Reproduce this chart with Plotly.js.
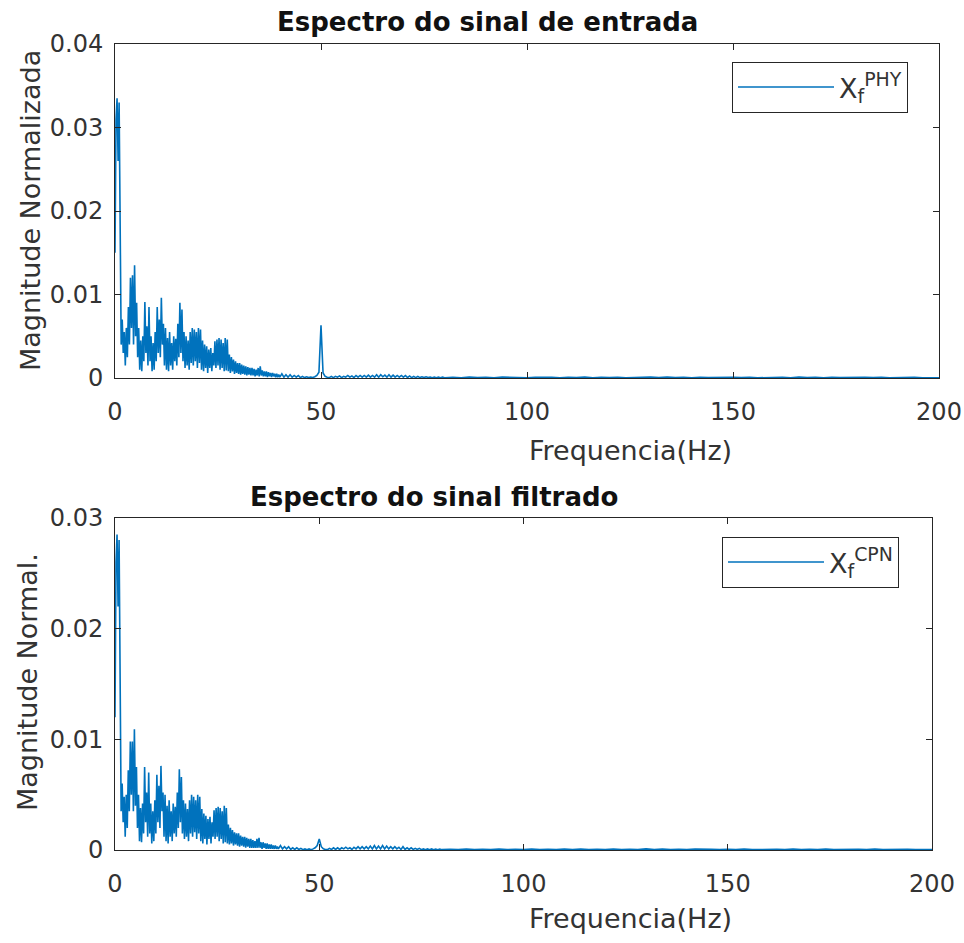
<!DOCTYPE html>
<html>
<head>
<meta charset="utf-8">
<script src="https://cdn.plot.ly/plotly-3.0.1.min.js"></script>
<style>
  html, body { margin: 0; padding: 0; background: #fff; }
  #chart { width: 964px; height: 943px; }
</style>
</head>
<body>
<div id="chart"></div>
<script>
// ---------------- DATA ----------------
// Frequency grids (FFT bins): fine 0..40 Hz step 0.25, mid 40.5..80 step 0.5, coarse 82..200 step 2
var fineStart = 0,   fineStep = 0.25;
var midStart = 40.5, midStep = 0.5;
var coarseStart = 82, coarseStep = 2;

// Espectro do sinal de entrada (X_f^PHY)
var entradaFine = [
  0.015, 0.031, 0.0335, 0.026, 0.033, 0.012, 0.004, 0.007,
  0.003, 0.0055, 0.0015, 0.006, 0.0025, 0.0085, 0.004, 0.012,
  0.006, 0.0123, 0.004, 0.0135, 0.005, 0.009, 0.0025, 0.006,
  0.001, 0.0045, 0.0008, 0.005, 0.002, 0.0091, 0.003, 0.0062,
  0.0015, 0.0085, 0.002, 0.005, 0.0008, 0.0042, 0.001, 0.0055,
  0.002, 0.0085, 0.003, 0.007, 0.0025, 0.0096, 0.004, 0.0065,
  0.0015, 0.006, 0.001, 0.0048, 0.0008, 0.0055, 0.0015, 0.0042,
  0.001, 0.005, 0.002, 0.0047, 0.0015, 0.0065, 0.0025, 0.009,
  0.003, 0.0082, 0.002, 0.0055, 0.0012, 0.005, 0.0015, 0.0045,
  0.001, 0.0055, 0.0018, 0.006, 0.0015, 0.0058, 0.002, 0.0055,
  0.0012, 0.006, 0.0018, 0.0058, 0.001, 0.0045, 0.0008, 0.004,
  0.0012, 0.0038, 0.0006, 0.0034, 0.0012, 0.0036, 0.0008, 0.003,
  0.0015, 0.0044, 0.0012, 0.0046, 0.0015, 0.0048, 0.001, 0.0046,
  0.0012, 0.0042, 0.0008, 0.0048, 0.0009, 0.0046, 0.0008, 0.0028,
  0.0006, 0.0025, 0.0008, 0.0022, 0.0005, 0.002, 0.0006, 0.0018,
  0.0005, 0.0018, 0.0004, 0.0016, 0.0005, 0.0015, 0.0004, 0.0014,
  0.0003, 0.0013, 0.0004, 0.0012, 0.0003, 0.0012, 0.0003, 0.0011,
  0.0002, 0.001, 0.0003, 0.0012, 0.0002, 0.0014, 0.0003, 0.0009,
  0.0002, 0.0008, 0.0002, 0.0008, 0.0001, 0.0007, 0.0002, 0.0006,
  0.0001, 0.0006, 0.0002, 0.0005, 0.0001, 0.0005, 0.0001, 0.0004,
  0.0001
];
var entradaMid = [
  0.0005, 0.0001, 0.0004, 0.0001, 0.0004, 0.0001, 0.0003, 0.0001,
  0.0003, 0.00005, 0.0002, 0.00005, 0.00015, 0.00005, 0.0001, 0.00005,
  0.00015, 0.0003, 0.0007, 0.0063, 0.0006, 0.0002, 0.0001, 0.00005,
  0.0002, 0.00005, 0.0002, 0.0001, 0.00025, 0.00005, 0.0002, 0.0001,
  0.0003, 0.0001, 0.00025, 0.00005, 0.0003, 0.0001, 0.0003, 0.0001,
  0.0003, 0.0001, 0.00035, 0.0001, 0.0003, 0.0001, 0.0004, 0.0001,
  0.0004, 0.00015, 0.00035, 0.0001, 0.0004, 0.0001, 0.00035, 0.0001,
  0.0003, 0.0001, 0.0003, 0.0001, 0.0003, 0.00005, 0.00025, 0.00005,
  0.0002, 0.00005, 0.0002, 0.00005, 0.00015, 0.00005, 0.00015, 0.00005,
  0.0001, 0.00003, 0.0001, 0.00003, 0.0001, 0.00003, 0.0001, 0.00003
];
var entradaCoarse = [
  0.00008, 0.00003, 0.0001, 0.00004, 0.00008, 0.00003, 0.0001, 0.00005, 0.00008, 0.00003,
  0.00009, 0.00004, 0.00007, 0.00003, 0.00008, 0.00004, 0.0001, 0.00003, 0.00008, 0.00004,
  0.00009, 0.00003, 0.00007, 0.00004, 0.00012, 0.00005, 0.0001, 0.00004, 0.00008, 0.00003,
  0.00009, 0.00004, 0.00007, 0.00003, 0.00008, 0.00004, 0.00009, 0.00003, 0.00007, 0.00004,
  0.00008, 0.00003, 0.0001, 0.00004, 0.00008, 0.00003, 0.00009, 0.00004, 0.00007, 0.00003,
  0.00008, 0.00004, 0.00009, 0.00003, 0.00007, 0.00004, 0.00008, 0.00003, 0.00006, 0.00003
];

// Espectro do sinal filtrado (X_f^CPN)
var filtradoFine = [
  0.012, 0.026, 0.0285, 0.022, 0.028, 0.01, 0.0035, 0.006,
  0.0025, 0.0048, 0.0012, 0.005, 0.002, 0.0072, 0.0035, 0.0098,
  0.005, 0.0098, 0.0035, 0.0109, 0.004, 0.0075, 0.002, 0.005,
  0.0008, 0.0038, 0.0007, 0.0042, 0.0015, 0.0075, 0.0025, 0.0052,
  0.0012, 0.007, 0.0015, 0.0042, 0.0006, 0.0035, 0.0008, 0.0045,
  0.0015, 0.0068, 0.0025, 0.0058, 0.002, 0.0076, 0.0035, 0.0052,
  0.0012, 0.005, 0.0008, 0.004, 0.0006, 0.0045, 0.0012, 0.0035,
  0.0008, 0.0042, 0.0015, 0.0039, 0.0012, 0.0052, 0.002, 0.0073,
  0.0025, 0.0066, 0.0015, 0.0045, 0.001, 0.0042, 0.0012, 0.0037,
  0.0008, 0.0045, 0.0015, 0.005, 0.0012, 0.0048, 0.0016, 0.0045,
  0.001, 0.005, 0.0015, 0.0048, 0.0008, 0.0037, 0.0006, 0.0033,
  0.001, 0.0031, 0.0005, 0.0028, 0.001, 0.003, 0.0006, 0.0025,
  0.0012, 0.0036, 0.001, 0.0038, 0.0012, 0.0039, 0.0008, 0.0038,
  0.001, 0.0035, 0.0006, 0.004, 0.0007, 0.0038, 0.0006, 0.0023,
  0.0005, 0.002, 0.0006, 0.0018, 0.0004, 0.0016, 0.0005, 0.0015,
  0.0004, 0.0015, 0.0003, 0.0013, 0.0004, 0.0012, 0.0003, 0.0012,
  0.0002, 0.0011, 0.0003, 0.001, 0.0002, 0.001, 0.0002, 0.0009,
  0.0002, 0.0008, 0.0002, 0.001, 0.0002, 0.0011, 0.0002, 0.0007,
  0.0001, 0.0007, 0.0002, 0.0006, 0.0001, 0.0006, 0.0001, 0.0005,
  0.0001, 0.0005, 0.0001, 0.0004, 0.0001, 0.0004, 0.0001, 0.0003,
  0.0001
];
var filtradoMid = [
  0.0004, 0.0001, 0.0003, 0.0001, 0.0003, 0.00005, 0.0002, 0.00005,
  0.0002, 0.00005, 0.00015, 0.00003, 0.0001, 0.00003, 0.0001, 0.00003,
  0.0001, 0.0002, 0.0004, 0.001, 0.0003, 0.0001, 0.00005, 0.00003,
  0.00015, 0.00005, 0.0002, 0.00005, 0.0002, 0.00005, 0.0002, 0.0001,
  0.00025, 0.0001, 0.0002, 0.00005, 0.00025, 0.0001, 0.0003, 0.0001,
  0.0003, 0.0001, 0.0003, 0.0001, 0.00035, 0.0001, 0.0004, 0.0001,
  0.00035, 0.0001, 0.0004, 0.0001, 0.00035, 0.0001, 0.0003, 0.0001,
  0.0003, 0.0001, 0.00025, 0.00005, 0.0003, 0.00005, 0.0002, 0.00005,
  0.0002, 0.00005, 0.00015, 0.00005, 0.00015, 0.00003, 0.0001, 0.00003,
  0.0001, 0.00003, 0.0001, 0.00003, 0.00008, 0.00003, 0.00008, 0.00003
];
var filtradoCoarse = [
  0.00007, 0.00003, 0.00009, 0.00004, 0.00007, 0.00003, 0.00009, 0.00004, 0.00007, 0.00003,
  0.00008, 0.00003, 0.00006, 0.00003, 0.00008, 0.00004, 0.00009, 0.00003, 0.00007, 0.00004,
  0.00008, 0.00003, 0.00006, 0.00004, 0.0001, 0.00004, 0.00009, 0.00004, 0.00007, 0.00003,
  0.00008, 0.00004, 0.00006, 0.00003, 0.00007, 0.00004, 0.00008, 0.00003, 0.00006, 0.00004,
  0.00007, 0.00003, 0.00009, 0.00004, 0.00007, 0.00003, 0.00008, 0.00004, 0.00006, 0.00003,
  0.00007, 0.00004, 0.00008, 0.00003, 0.00006, 0.00004, 0.00007, 0.00003, 0.00005, 0.00003
];

var xTickVals = [0, 50, 100, 150, 200];
var titles = ["Espectro do sinal de entrada", "Espectro do sinal filtrado"];
var yLabels = ["Magnitude Normalizada", "Magnitude Normal."];
var xLabel = "Frequencia(Hz)";
var legendNames = ["X<sub>f</sub><sup>PHY</sup>", "X<sub>f</sub><sup>CPN</sup>"];

// ---------------- BUILD ----------------
function grid(start, step, n) {
  var out = [];
  for (var i = 0; i < n; i++) out.push(+(start + i * step).toFixed(4));
  return out;
}
function freqsFor(fine, mid, coarse) {
  return grid(fineStart, fineStep, fine.length)
    .concat(grid(midStart, midStep, mid.length))
    .concat(grid(coarseStart, coarseStep, coarse.length));
}

var W = 964, H = 943;
function px(x) { return x / W; }
function py(y) { return 1 - y / H; }

var lineColor = '#0072BD';
var axisColor = '#262626';
var textColor = '#333333';
var FONT = 'DejaVu Sans, Arial, sans-serif';

var trace1 = {
  type: 'scatter', mode: 'lines',
  x: freqsFor(entradaFine, entradaMid, entradaCoarse),
  y: entradaFine.concat(entradaMid, entradaCoarse),
  line: { color: lineColor, width: 1.6 },
  name: legendNames[0], xaxis: 'x', yaxis: 'y', legend: 'legend'
};
var trace2 = {
  type: 'scatter', mode: 'lines',
  x: freqsFor(filtradoFine, filtradoMid, filtradoCoarse),
  y: filtradoFine.concat(filtradoMid, filtradoCoarse),
  line: { color: lineColor, width: 1.6 },
  name: legendNames[1], xaxis: 'x2', yaxis: 'y2', legend: 'legend2'
};

function xAxis(domain, anchor) {
  return {
    domain: domain, anchor: anchor, range: [0, 200], tickvals: xTickVals,
    ticks: 'inside', ticklen: 6, tickcolor: axisColor, tickwidth: 1,
    showline: true, linecolor: axisColor, linewidth: 1, mirror: 'ticks',
    showgrid: false, zeroline: false,
    tickfont: { family: FONT, size: 24, color: textColor },
    ticklabelstandoff: 12
  };
}
function yAxis(domain, anchor, max) {
  return {
    domain: domain, anchor: anchor, range: [0, max], dtick: 0.01, tick0: 0,
    ticks: 'inside', ticklen: 6, tickcolor: axisColor, tickwidth: 1,
    showline: true, linecolor: axisColor, linewidth: 1, mirror: 'ticks',
    showgrid: false, zeroline: false,
    tickfont: { family: FONT, size: 24, color: textColor },
    ticklabelstandoff: 6
  };
}
function legendBox(x, y) {
  return {
    x: x, y: y, xanchor: 'left', yanchor: 'top', xref: 'paper', yref: 'paper',
    bgcolor: '#ffffff', bordercolor: axisColor, borderwidth: 1,
    font: { family: FONT, size: 27, color: textColor },
    itemwidth: 96, tracegroupgap: 0
  };
}
function ann(text, x, y, size, opts) {
  var a = {
    text: text, x: px(x), y: py(y), xref: 'paper', yref: 'paper',
    xanchor: 'center', yanchor: 'middle', showarrow: false,
    font: { family: FONT, size: size, color: textColor }
  };
  for (var k in opts) a[k] = opts[k];
  return a;
}

var layout = {
  width: W, height: H,
  margin: { l: 0, r: 0, t: 0, b: 0 },
  paper_bgcolor: '#ffffff', plot_bgcolor: '#ffffff',
  showlegend: true,
  xaxis: xAxis([px(115), px(939)], 'y'),
  yaxis: yAxis([py(378), py(44)], 'x', 0.04),
  xaxis2: xAxis([px(115), px(932)], 'y2'),
  yaxis2: yAxis([py(850), py(518)], 'x2', 0.03),
  legend: legendBox(px(732), py(62)),
  legend2: legendBox(px(722), py(537)),
  annotations: [
    ann('<b>' + titles[0] + '</b>', 487, 22, 26, { font: { family: FONT, size: 26, color: '#111' } }),
    ann('<b>' + titles[1] + '</b>', 434, 497, 26, { font: { family: FONT, size: 26, color: '#111' } }),
    ann(xLabel, 630, 450, 27),
    ann(xLabel, 630, 918, 27),
    ann(yLabels[0], 30, 211, 27, { textangle: -90 }),
    ann(yLabels[1], 27, 682, 27, { textangle: -90 })
  ]
};

Plotly.newPlot('chart', [trace1, trace2], layout, { displayModeBar: false, staticPlot: true });
</script>
</body>
</html>
